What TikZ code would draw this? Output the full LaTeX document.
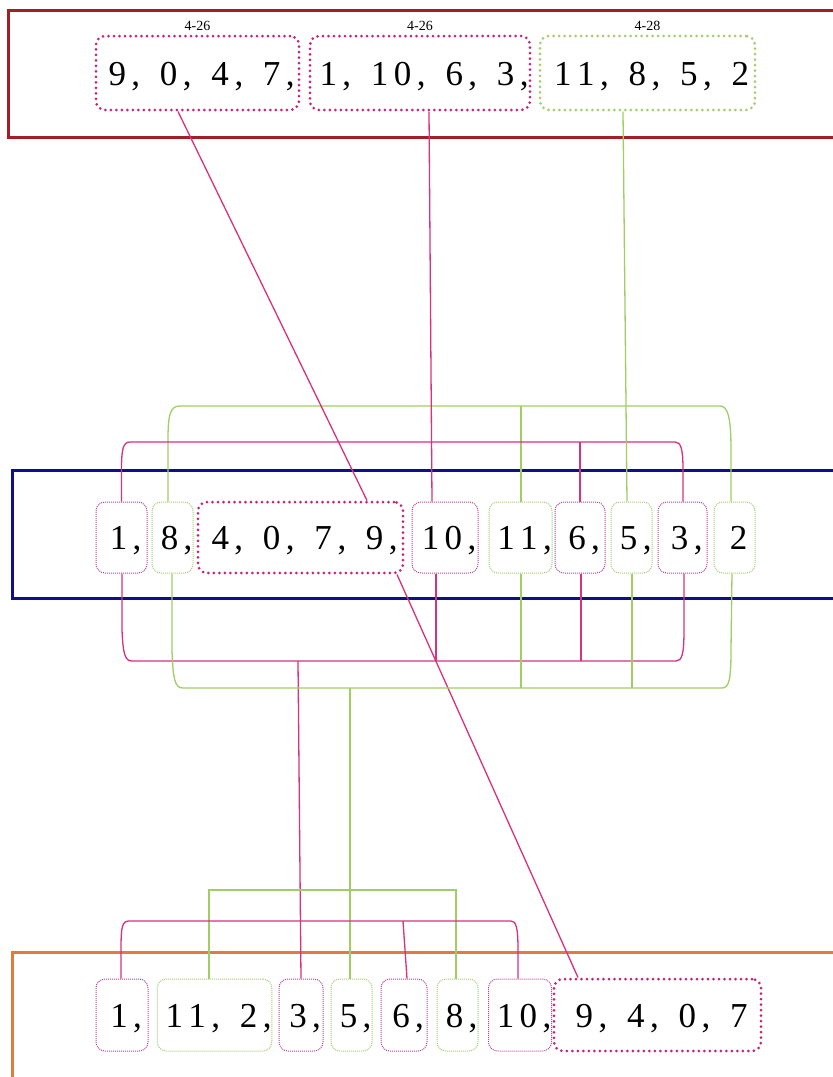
\documentclass[tikz,border=0pt]{standalone}
\usepackage{fontspec}
\setmainfont{Liberation Serif}
\newlength\lsamt
\setlength\lsamt{5.5pt}
\makeatletter
\def\LS#1{\kern1.5\lsamt\LS@#1\@nil\kern-\lsamt}
\def\LS@#1{\ifx#1\@nil\else#1\kern\lsamt\expandafter\LS@\fi}
\makeatother
\definecolor{dpink}{RGB}{200,35,120}
\definecolor{tpink}{RGB}{185,70,145}
\definecolor{lgreen}{RGB}{165,205,105}
\definecolor{tgreen}{RGB}{165,205,115}
\definecolor{cpink}{RGB}{215,50,125}
\definecolor{cgreen}{RGB}{160,205,100}
\definecolor{fred}{RGB}{165,30,35}
\definecolor{fblue}{RGB}{15,15,135}
\definecolor{forange}{RGB}{225,125,60}
\tikzset{
  numbox/.style={rounded corners=9pt, inner sep=0pt, font=\fontsize{35}{40}\selectfont, text height=24pt, text depth=0pt},
  thickpink/.style={numbox, draw=dpink, line width=3pt, dash pattern=on 0pt off 5.5pt, line cap=round},
  thickgreen/.style={numbox, draw=lgreen, line width=3pt, dash pattern=on 0pt off 5.5pt, line cap=round},
  thinpink/.style={numbox, draw=tpink, line width=1pt, dash pattern=on 1pt off 1pt},
  thingreen/.style={numbox, draw=tgreen, line width=1pt, dash pattern=on 1pt off 1pt},
  toprow/.style={minimum height=74pt},
  midrow/.style={minimum height=71pt},
  botrow/.style={minimum height=72pt},
  tag/.style={font=\fontsize{14}{15}\selectfont, inner sep=0pt, anchor=south},
  pline/.style={draw=cpink, line width=1.3pt},
  gline/.style={draw=cgreen, line width=1.3pt},
  frame/.style={line width=3pt}
}
\begin{document}
\begin{tikzpicture}[x=1pt,y=-1pt]
\clip (0,0) rectangle (833,1077);
\fill[white] (0,0) rectangle (833,1077);
% frames
\draw[frame, fred] (8,10) rectangle (860,137);
\draw[frame, fblue] (12,470) rectangle (860,598);
\draw[frame, forange] (12,952) rectangle (860,1100);

% top row
\node[thickpink, toprow, minimum width=203pt] (A) at (197.5,73) {\LS{9,~0,~4,~7,}};
\node[thickpink, toprow, minimum width=220pt] (B) at (420,73) {\LS{1,~10,~6,~3,}};
\node[thickgreen, toprow, minimum width=215pt] (C) at (647.5,73) {\LS{11,~8,~5,~2}};
\node[tag] (tA) at ([yshift=3.5pt]A.north) {4-26};
\node[tag] (tB) at ([yshift=3.5pt]B.north) {4-26};
\node[tag] (tC) at ([yshift=3.5pt]C.north) {4-28};

% middle row
\node[thinpink, midrow, minimum width=51pt] (m1) at (121.5,537.5) {\LS{1,}};
\node[thingreen, midrow, minimum width=41pt] (m8) at (172.5,537.5) {\LS{8,}};
\node[thickpink, midrow, minimum width=205pt] (m4079) at (300.5,537.5) {\LS{4,~0,~7,~9,}};
\node[thinpink, midrow, minimum width=66pt] (m10) at (445,537.5) {\LS{10,}};
\node[thingreen, midrow, minimum width=63pt] (m11) at (520.5,537.5) {\LS{11,}};
\node[thinpink, midrow, minimum width=50pt] (m6) at (580,537.5) {\LS{6,}};
\node[thingreen, midrow, minimum width=41pt] (m5) at (631.5,537.5) {\LS{5,}};
\node[thinpink, midrow, minimum width=49pt] (m3) at (682.5,537.5) {\LS{3,}};
\node[thingreen, midrow, minimum width=41pt] (m2) at (734.5,537.5) {\LS{2}};

% bottom row
\node[thinpink, botrow, minimum width=52pt] (b1) at (122,1015) {\LS{1,}};
\node[thingreen, botrow, minimum width=111pt] (b112) at (214.5,1015) {\LS{11,~2,}};
\node[thinpink, botrow, minimum width=44pt] (b3) at (301,1015) {\LS{3,}};
\node[thingreen, botrow, minimum width=41pt] (b5) at (351.5,1015) {\LS{5,}};
\node[thinpink, botrow, minimum width=46pt] (b6) at (404,1015) {\LS{6,}};
\node[thingreen, botrow, minimum width=41pt] (b8) at (457.5,1015) {\LS{8,}};
\node[thinpink, botrow, minimum width=58pt] (b10) at (520,1015) {\LS{10,}};
\node[thickpink, botrow, minimum width=207pt] (b9407) at (657.5,1015) {\LS{9,~4,~0,~7}};

% brackets between top and middle
\draw[gline] ([xshift=-4.5pt]m8.north) -- (168,440) .. controls (168,415) and (170,406) .. (180,406)
  -- (720,406) .. controls (728,406) and (731,418) .. (731,450) -- ([xshift=-3.5pt]m2.north);
\draw[gline] (521,406) -- ([xshift=0.5pt]m11.north);
\draw[pline] (m1.north) -- (121.5,470) .. controls (121.5,449) and (123,442) .. (130,442)
  -- (675,442) .. controls (681,442) and (683,449) .. (683,470) -- ([xshift=0.5pt]m3.north);
\draw[pline] (580,442) -- (m6.north);

% long connectors
\draw[pline] ([xshift=-19.5pt]A.south) -- ([xshift=66.5pt]m4079.north);
\draw[pline] ([xshift=96.5pt]m4079.south) -- ([xshift=-79.5pt]b9407.north);
\draw[pline] ([xshift=9pt]B.south) -- ([xshift=-13pt]m10.north);
\draw[gline] ([xshift=-24.5pt]C.south) -- ([xshift=-4.5pt]m5.north);

% brackets below middle
\draw[pline] ([xshift=0.5pt]m1.south) -- (122,630) .. controls (123,654) and (125,661) .. (132,661)
  -- (676,661) .. controls (682,661) and (684,654) .. (684,630) -- ([xshift=1.5pt]m3.south);
\draw[pline] ([xshift=-9pt]m10.south) -- (436,661);
\draw[pline] ([xshift=1pt]m6.south) -- (581,661);
\draw[pline] (298,661) -- (b3.north);
\draw[gline] ([xshift=-0.5pt]m8.south) -- (172,650) .. controls (173,680) and (175,688) .. (183,688)
  -- (722,688) .. controls (729,688) and (731,680) .. (731,650) -- ([xshift=-2.5pt]m2.south);
\draw[gline] ([xshift=0.5pt]m11.south) -- (521,688);
\draw[gline] ([xshift=0.5pt]m5.south) -- (632,688);
\draw[gline] (350,688) -- ([xshift=-1.5pt]b5.north);

% brackets above bottom
\draw[gline] ([xshift=-5.5pt]b112.north) -- (209,890) -- (456,890) -- ([xshift=-1.5pt]b8.north);
\draw[pline] ([xshift=-1pt]b1.north) -- (121,950) .. controls (121,927) and (122,921) .. (129,921)
  -- (511,921) .. controls (516,921) and (518,927) .. (518,950) -- ([xshift=-2pt]b10.north);
\draw[pline] (403,921) -- ([xshift=3pt]b6.north);
\end{tikzpicture}
\end{document}
